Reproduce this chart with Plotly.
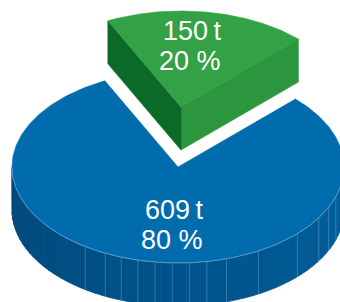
import numpy as np
import plotly.graph_objects as go

# ---- data ----
categories = ["Blue", "Green"]
tonnes = [609, 150]
tonne_labels = ["609\u2009t", "150\u2009t"]
percent_labels = ["80 %", "20 %"]

# ---- style / geometry ----
CX, CY = 178.0, 167.0      # pie centre (screen px)
RX, RY = 166.0, 96.0       # ellipse radii
DEPTH = 43.0               # extrusion depth
START = 45.0               # start angle of the green slice (deg, ccw from +x)
PULL = (3.0, -60.0)        # explode offset of green slice
BLUE_TOP = "#006cae"
GREEN_TOP = "#33a145"
GREEN_LEFT = "#0b6a28"
GREEN_RIGHT = "#2b963d"
FACET_ANGLES = [236, 244, 250, 256, 262, 268, 274, 280, 287, 299, 316, 328, 335, 342]

total = float(sum(tonnes))
green_span = 360.0 * tonnes[1] / total
g0, g1 = START, START + green_span
b0, b1 = g1, START + 360.0


def pt(a_deg, cx, cy, z=0.0):
    a = np.radians(a_deg)
    return cx + RX * np.cos(a), cy - RY * np.sin(a) + z


def arc(a0, a1, cx, cy, z=0.0, n=120):
    angs = np.linspace(a0, a1, n)
    xs, ys = pt(angs, cx, cy, z)
    return list(xs), list(ys)


def poly(xs, ys, color, lw=0.6, lc=None):
    return go.Scatter(x=xs + [xs[0]], y=ys + [ys[0]], mode="lines", fill="toself",
                      fillcolor=color, line=dict(color=lc or color, width=lw),
                      hoverinfo="skip", showlegend=False)


fig = go.Figure()

# ---- green (exploded) slice ----
gcx, gcy = CX + PULL[0], CY + PULL[1]
ex, ey = pt(g0, gcx, gcy)
fig.add_trace(poly([gcx, ex, ex, gcx], [gcy, ey, ey + DEPTH, gcy + DEPTH], GREEN_RIGHT))
ex, ey = pt(g1, gcx, gcy)
fig.add_trace(poly([gcx, ex, ex, gcx], [gcy, ey, ey + DEPTH, gcy + DEPTH], GREEN_LEFT))
ax_, ay_ = arc(g0, g1, gcx, gcy)
fig.add_trace(poly([gcx] + ax_, [gcy] + ay_, GREEN_TOP))

# ---- blue slice side (front visible part 180..360) ----
edges = np.arange(180, 361, 3)
for i in range(len(edges) - 1):
    a0, a1 = edges[i], edges[i + 1]
    t = (0.5 * (a0 + a1) - 180) / 180.0
    g = int(72 + 24 * t)
    b = int(122 + 34 * t)
    col = f"rgb(0,{g},{b})"
    tx, ty = arc(a0, a1, CX, CY, 0, 8)
    bx, by = arc(a1, a0, CX, CY, DEPTH, 8)
    fig.add_trace(poly(tx + bx, ty + by, col, lw=0.8))

for a in FACET_ANGLES:
    x0, y0 = pt(a, CX, CY)
    fig.add_trace(go.Scatter(x=[x0, x0], y=[y0, y0 + DEPTH], mode="lines",
                             line=dict(color="rgba(120,170,210,0.55)", width=0.8),
                             hoverinfo="skip", showlegend=False))

# ---- blue top face ----
ax_, ay_ = arc(b0, b1, CX, CY, 0, 300)
fig.add_trace(poly([CX] + ax_, [CY] + ay_, BLUE_TOP))
hx, hy = arc(180, 360, CX, CY, 0, 200)
fig.add_trace(go.Scatter(x=hx, y=hy, mode="lines",
                         line=dict(color="rgba(140,185,220,0.8)", width=0.8),
                         hoverinfo="skip", showlegend=False))

# ---- labels ----
font = dict(family="Liberation Sans, Arial, sans-serif", size=27, color="white")
label_pos = {
    "Blue": (205, 210, 240),
    "Green": (223, 31, 61),
}
for i, cat in enumerate(categories):
    x, y1, y2 = label_pos[cat]
    fig.add_annotation(x=x, y=y1, text=tonne_labels[i], showarrow=False,
                       xanchor="right", yanchor="middle", font=font)
    fig.add_annotation(x=x, y=y2, text=percent_labels[i], showarrow=False,
                       xanchor="right", yanchor="middle", font=font)

fig.update_layout(
    width=340, height=302,
    margin=dict(l=0, r=0, t=0, b=0),
    paper_bgcolor="white", plot_bgcolor="white",
    xaxis=dict(range=[0, 340], visible=False, fixedrange=True),
    yaxis=dict(range=[302, 0], visible=False, fixedrange=True),
    showlegend=False,
)

fig.write_html("out.html", config={"displayModeBar": False},
               post_script="document.body.style.margin='0';document.body.style.overflow='hidden';")
